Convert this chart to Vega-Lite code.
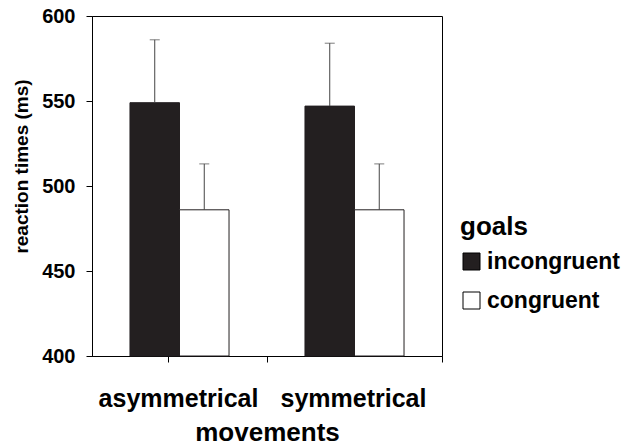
{
  "$schema": "https://vega.github.io/schema/vega-lite/v6.json",
  "autosize": {"type": "none"},
  "width": 350,
  "height": 340,
  "padding": {"left": 92, "top": 16, "right": 181, "bottom": 92},
  "background": "white",
  "config": {
    "font": "Liberation Sans",
    "view": {"stroke": "black", "strokeWidth": 1},
    "axis": {"grid": false, "domainColor": "black", "tickColor": "black", "labelColor": "black", "titleColor": "black", "labelFontWeight": "bold", "titleFontWeight": "bold"}
  },
  "data": {
    "values": [
      {"movement": "asymmetrical", "goal": "incongruent", "mean": 549, "upper": 586},
      {"movement": "asymmetrical", "goal": "congruent", "mean": 486, "upper": 513},
      {"movement": "symmetrical", "goal": "incongruent", "mean": 547, "upper": 584},
      {"movement": "symmetrical", "goal": "congruent", "mean": 486, "upper": 513}
    ]
  },
  "encoding": {
    "x": {
      "field": "movement", "type": "nominal",
      "scale": {"paddingInner": 0.434, "paddingOuter": 0.217},
      "axis": {"title": "movements", "labelAngle": 0, "labelFontSize": 25, "titleFontSize": 26, "bandPosition": 1, "tickOffset": 38, "tickExtra": true, "labelOffset": -39.5, "tickSize": 6, "labelPadding": 24, "titlePadding": 8}
    },
    "xOffset": {"field": "goal", "type": "nominal", "sort": ["incongruent", "congruent"], "scale": {"paddingInner": 0, "paddingOuter": 0}}
  },
  "layer": [
    {
      "mark": {"type": "bar", "stroke": "#231f20", "strokeWidth": 1},
      "encoding": {
        "y": {
          "field": "mean", "type": "quantitative",
          "scale": {"domain": [400, 600], "nice": false, "zero": false},
          "axis": {"title": "reaction times (ms)", "values": [400, 450, 500, 550, 600], "labelFontSize": 20, "titleFontSize": 19, "tickSize": 6, "labelPadding": 11, "titlePadding": 10, "titleY": 150}
        },
        "y2": {"datum": 400},
        "color": {
          "field": "goal", "type": "nominal", "sort": ["incongruent", "congruent"],
          "scale": {"domain": ["incongruent", "congruent"], "range": ["#231f20", "white"]},
          "legend": {"title": "goals", "orient": "none", "legendX": 368, "legendY": 198, "titleFontSize": 26, "titleFontWeight": "bold", "titleColor": "black", "labelFontSize": 23, "labelFontWeight": "bold", "labelColor": "black", "symbolType": "square", "symbolSize": 289, "symbolStrokeColor": "black", "symbolStrokeWidth": 1, "rowPadding": 15, "titlePadding": 10}
        }
      }
    },
    {
      "mark": {"type": "rule", "color": "#444", "strokeWidth": 1},
      "encoding": {
        "y": {"field": "mean", "type": "quantitative"},
        "y2": {"field": "upper"}
      }
    },
    {
      "mark": {"type": "tick", "color": "#444", "thickness": 1, "size": 10},
      "encoding": {
        "y": {"field": "upper", "type": "quantitative"}
      }
    }
  ]
}
